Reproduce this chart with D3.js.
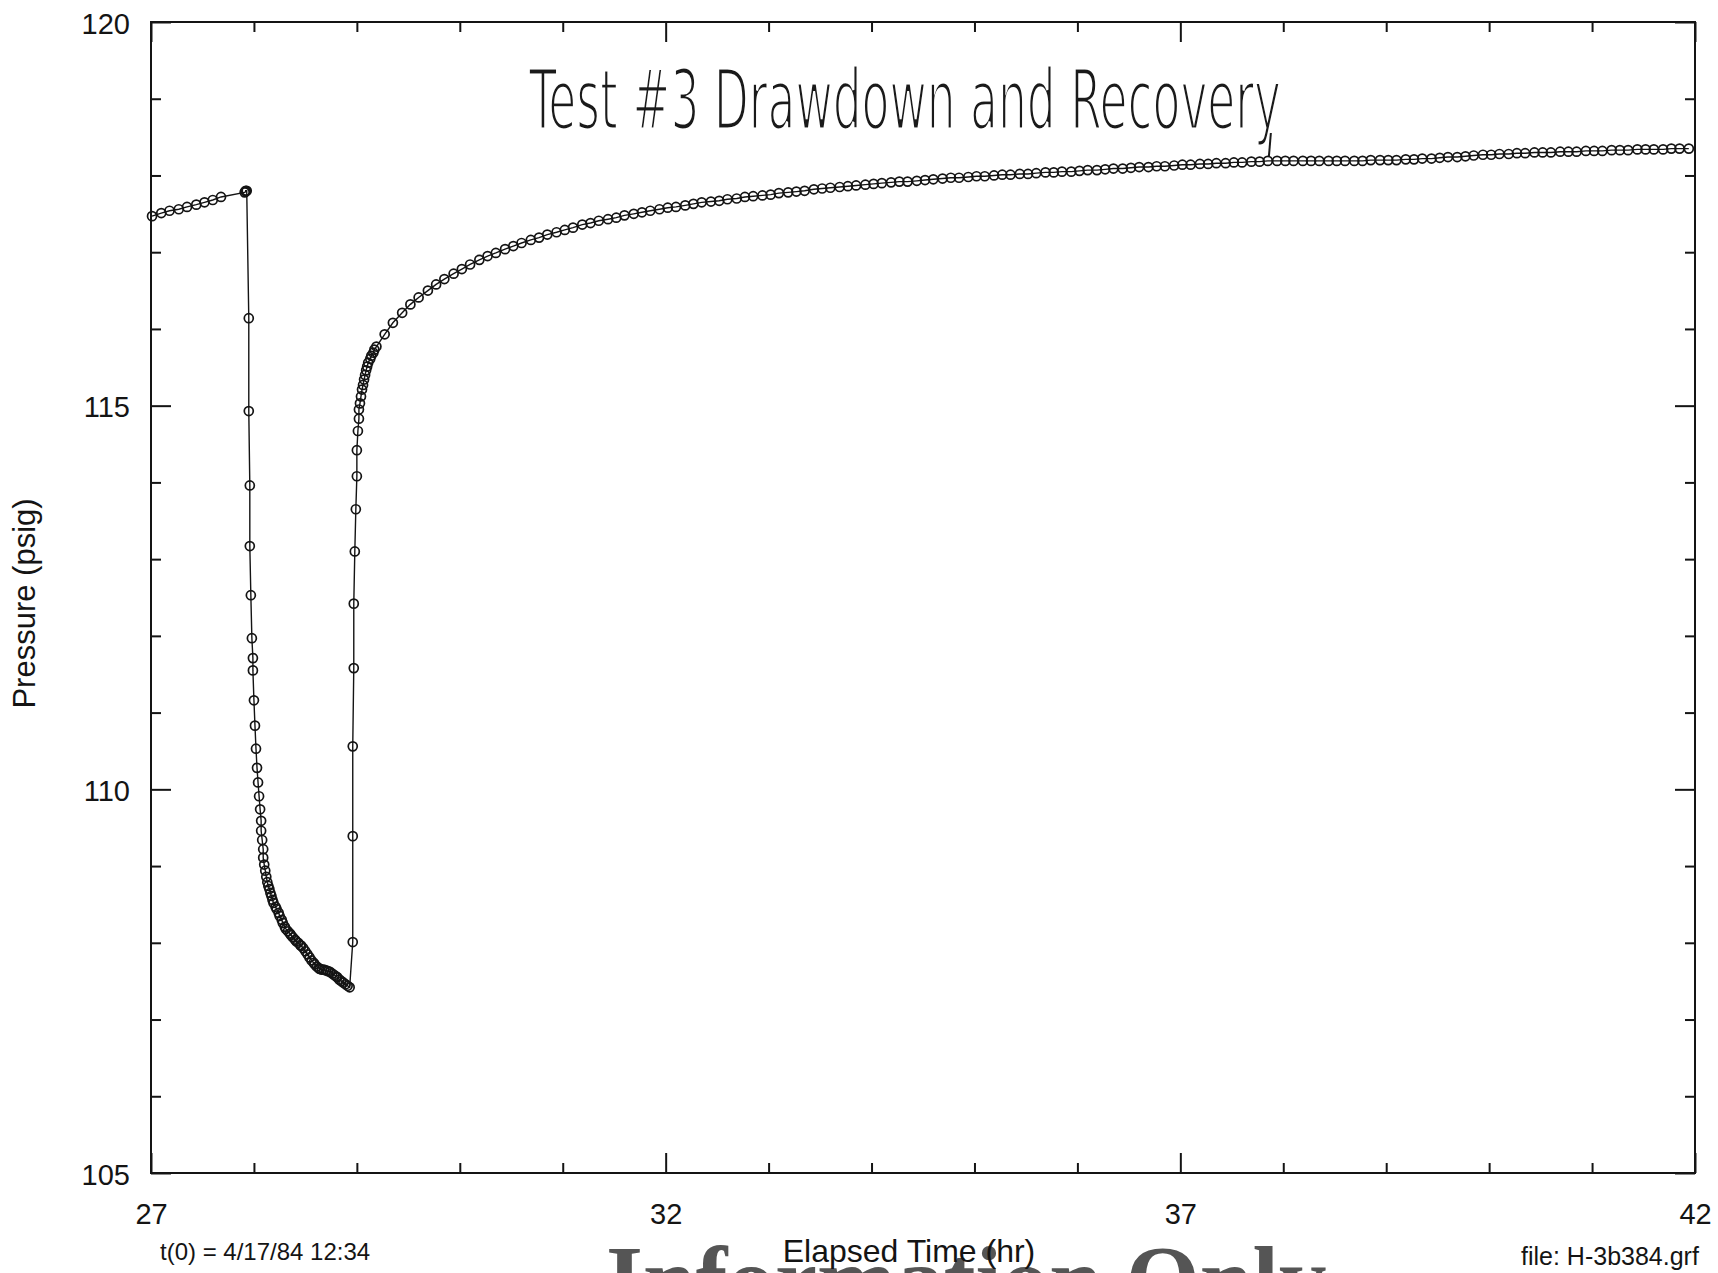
<!DOCTYPE html>
<html>
<head>
<meta charset="utf-8">
<script src="https://cdn.jsdelivr.net/npm/d3@7"></script>
<style>
  html, body { margin: 0; padding: 0; background: #fff; }
  svg { display: block; }
</style>
</head>
<body>
<svg id="chart" width="1718" height="1273"></svg>
<script>
// Well H-3b3, test #3: pressure during drawdown and recovery

// Pre-test static readings (elapsed hours, psig)
const pretestTime = [27.01, 27.10, 27.18, 27.27, 27.35, 27.44, 27.52, 27.60, 27.68, 27.91, 27.92, 27.92, 27.93];
const pretestPressure = [117.47, 117.51, 117.54, 117.56, 117.59, 117.62, 117.65, 117.68, 117.72, 117.78, 117.79, 117.80, 117.80];

// Drawdown readings
const drawdownTime = [
  27.95, 27.95, 27.96, 27.96, 27.97, 27.98, 27.99, 27.99, 28.00, 28.01,
  28.02, 28.03, 28.04, 28.05, 28.06, 28.07, 28.07, 28.08, 28.09, 28.09,
  28.10, 28.11, 28.12, 28.13, 28.14, 28.15, 28.16, 28.17, 28.18, 28.19,
  28.21, 28.22, 28.24, 28.25, 28.27, 28.28, 28.30, 28.31, 28.33, 28.35,
  28.36, 28.38, 28.40, 28.41, 28.43, 28.45, 28.46, 28.48, 28.50, 28.52,
  28.54, 28.56, 28.58, 28.59, 28.61, 28.63, 28.64, 28.66, 28.68, 28.70,
  28.72, 28.74, 28.76, 28.78, 28.80, 28.81, 28.83, 28.85, 28.87, 28.89,
  28.91, 28.93
];
const drawdownPressure = [
  116.14, 114.93, 113.96, 113.17, 112.53, 111.97, 111.71, 111.55, 111.16, 110.83,
  110.53, 110.28, 110.09, 109.91, 109.74, 109.59, 109.46, 109.34, 109.22, 109.11,
  109.02, 108.94, 108.86, 108.79, 108.74, 108.70, 108.65, 108.61, 108.56, 108.52,
  108.47, 108.44, 108.39, 108.35, 108.30, 108.26, 108.21, 108.18, 108.15, 108.12,
  108.10, 108.07, 108.04, 108.02, 108.00, 107.97, 107.96, 107.93, 107.89, 107.85,
  107.81, 107.77, 107.74, 107.72, 107.69, 107.67, 107.66, 107.65, 107.65, 107.64,
  107.63, 107.62, 107.60, 107.58, 107.56, 107.55, 107.52, 107.50, 107.48, 107.46,
  107.44, 107.42
];

// Recovery readings
const recoveryTime = [
  28.96, 28.96, 28.96, 28.97, 28.97, 28.98, 28.99, 29.00, 29.00, 29.01,
  29.02, 29.02, 29.03, 29.04, 29.05, 29.06, 29.07, 29.08, 29.09, 29.10,
  29.11, 29.13, 29.14, 29.16, 29.17, 29.19,
  29.27, 29.35, 29.44, 29.52, 29.60, 29.69, 29.77, 29.85, 29.94, 30.02, 30.10, 30.19,
  30.27, 30.35, 30.44, 30.52, 30.60, 30.69, 30.77, 30.85, 30.94, 31.02, 31.10, 31.19,
  31.27, 31.35, 31.44, 31.52, 31.60, 31.69, 31.77, 31.85, 31.94, 32.02, 32.10, 32.19,
  32.27, 32.35, 32.44, 32.52, 32.60, 32.69, 32.77, 32.85, 32.94, 33.02, 33.10, 33.19,
  33.27, 33.35, 33.44, 33.52, 33.60, 33.69, 33.77, 33.85, 33.94, 34.02, 34.10, 34.19,
  34.27, 34.35, 34.44, 34.52, 34.60, 34.69, 34.77, 34.85, 34.94, 35.02, 35.10, 35.19,
  35.27, 35.35, 35.44, 35.52, 35.60, 35.69, 35.77, 35.85, 35.94, 36.02, 36.10, 36.19,
  36.27, 36.35, 36.44, 36.52, 36.60, 36.69, 36.77, 36.85, 36.94, 37.02, 37.10, 37.19,
  37.27, 37.35, 37.44, 37.52, 37.60, 37.69, 37.77, 37.85, 37.94, 38.02, 38.10, 38.19,
  38.27, 38.35, 38.44, 38.52, 38.60, 38.69, 38.77, 38.85, 38.94, 39.02, 39.10, 39.19,
  39.27, 39.35, 39.44, 39.52, 39.60, 39.69, 39.77, 39.85, 39.94, 40.02, 40.10, 40.19,
  40.27, 40.35, 40.44, 40.52, 40.60, 40.69, 40.77, 40.85, 40.94, 41.02, 41.10, 41.19,
  41.27, 41.35, 41.44, 41.52, 41.60, 41.69, 41.77, 41.85, 41.94
];
const recoveryPressure = [
  108.01, 109.39, 110.56, 111.58, 112.42, 113.10, 113.65, 114.08, 114.42, 114.67,
  114.83, 114.95, 115.03, 115.12, 115.21, 115.27, 115.34, 115.40, 115.46, 115.51,
  115.56, 115.61, 115.65, 115.69, 115.73, 115.77,
  115.93, 116.08, 116.21, 116.32, 116.41, 116.50, 116.58, 116.65, 116.72, 116.78, 116.84, 116.90,
  116.95, 116.99, 117.04, 117.08, 117.12, 117.16, 117.19, 117.23, 117.26, 117.29, 117.32, 117.36,
  117.38, 117.41, 117.43, 117.45, 117.48, 117.50, 117.52, 117.54, 117.56, 117.58, 117.59, 117.61,
  117.63, 117.65, 117.66, 117.67, 117.69, 117.70, 117.72, 117.73, 117.74, 117.75, 117.77, 117.78,
  117.79, 117.80, 117.82, 117.83, 117.84, 117.85, 117.86, 117.87, 117.88, 117.89, 117.90, 117.91,
  117.92, 117.92, 117.93, 117.94, 117.95, 117.96, 117.97, 117.97, 117.98, 117.99, 117.99, 118.00,
  118.01, 118.01, 118.02, 118.02, 118.03, 118.04, 118.04, 118.05, 118.05, 118.06, 118.07, 118.07,
  118.08, 118.09, 118.09, 118.10, 118.11, 118.11, 118.12, 118.12, 118.13, 118.14, 118.14, 118.15,
  118.15, 118.16, 118.16, 118.17, 118.17, 118.18, 118.18, 118.19, 118.19, 118.19, 118.19, 118.19,
  118.19, 118.19, 118.19, 118.19, 118.19, 118.19, 118.19, 118.20, 118.20, 118.20, 118.20, 118.21,
  118.21, 118.22, 118.22, 118.23, 118.24, 118.24, 118.25, 118.26, 118.27, 118.27, 118.28, 118.28,
  118.29, 118.29, 118.30, 118.30, 118.30, 118.31, 118.31, 118.31, 118.32, 118.32, 118.32, 118.33,
  118.33, 118.33, 118.34, 118.34, 118.34, 118.34, 118.35, 118.35, 118.35
];

// Axis ranges and labelled ticks
const xDomain = [27, 42];
const yDomain = [105, 120];
const xTickLabels = [27, 32, 37, 42];
const yTickLabels = [105, 110, 115, 120];

const titleText = "Test #3 Drawdown and Recovery";
const xTitle = "Elapsed Time (hr)";
const yTitle = "Pressure (psig)";
const startNote = "t(0) = 4/17/84 12:34";
const fileNote = "file: H-3b384.grf";
const stampText = "Information Only";

// ---------------------------------------------------------------------------
const svg = d3.select("#chart");
const W = 1718, H = 1273;
const plot = { left: 151, right: 1695, top: 22, bottom: 1173 };

const x = d3.scaleLinear().domain(xDomain).range([plot.left, plot.right]);
const y = d3.scaleLinear().domain(yDomain).range([plot.bottom, plot.top]);

svg.append("rect").attr("width", W).attr("height", H).attr("fill", "#fff");

// Large stamp across the foot of the page
svg.append("text")
  .attr("x", 606).attr("y", 1312)
  .attr("font-family", "'Liberation Serif', 'DejaVu Serif', serif")
  .attr("font-weight", "bold")
  .attr("font-size", 95)
  .attr("fill", "#555")
  .text(stampText);

const ink = "#141414";
const font = "'Liberation Sans', Arial, sans-serif";

// Ticks on all four sides, pointing inward
const minorX = d3.range(xDomain[0], xDomain[1] + 1).filter(v => v % 5 !== 2);
const minorY = d3.range(yDomain[0], yDomain[1] + 1).filter(v => v % 5 !== 0);

function styleAxis(g) {
  g.select(".domain").remove();
  g.selectAll(".tick line").attr("stroke", ink).attr("stroke-width", 2);
  g.selectAll(".tick text")
    .attr("fill", ink)
    .attr("font-family", font)
    .attr("font-size", 29);
}

// bottom
svg.append("g").attr("transform", `translate(0,${plot.bottom})`)
  .call(d3.axisBottom(x).tickValues(minorX).tickSizeInner(-10).tickSizeOuter(0).tickFormat(""))
  .call(styleAxis);
svg.append("g").attr("transform", `translate(0,${plot.bottom})`)
  .call(d3.axisBottom(x).tickValues(xTickLabels).tickSizeInner(-20).tickSizeOuter(0)
    .tickPadding(30).tickFormat(d3.format("d")))
  .call(styleAxis);
// top
svg.append("g").attr("transform", `translate(0,${plot.top})`)
  .call(d3.axisTop(x).tickValues(minorX).tickSizeInner(-10).tickSizeOuter(0).tickFormat(""))
  .call(styleAxis);
svg.append("g").attr("transform", `translate(0,${plot.top})`)
  .call(d3.axisTop(x).tickValues(xTickLabels).tickSizeInner(-20).tickSizeOuter(0).tickFormat(""))
  .call(styleAxis);
// left
svg.append("g").attr("transform", `translate(${plot.left},0)`)
  .call(d3.axisLeft(y).tickValues(minorY).tickSizeInner(-10).tickSizeOuter(0).tickFormat(""))
  .call(styleAxis);
svg.append("g").attr("transform", `translate(${plot.left},0)`)
  .call(d3.axisLeft(y).tickValues(yTickLabels).tickSizeInner(-20).tickSizeOuter(0)
    .tickPadding(21).tickFormat(d3.format("d")))
  .call(styleAxis)
  .call(g => g.selectAll(".tick text").attr("dy", "0.38em"));
// right
svg.append("g").attr("transform", `translate(${plot.right},0)`)
  .call(d3.axisRight(y).tickValues(minorY).tickSizeInner(-10).tickSizeOuter(0).tickFormat(""))
  .call(styleAxis);
svg.append("g").attr("transform", `translate(${plot.right},0)`)
  .call(d3.axisRight(y).tickValues(yTickLabels).tickSizeInner(-20).tickSizeOuter(0).tickFormat(""))
  .call(styleAxis);

// Plot frame
svg.append("rect")
  .attr("x", plot.left).attr("y", plot.top)
  .attr("width", plot.right - plot.left).attr("height", plot.bottom - plot.top)
  .attr("fill", "none").attr("stroke", ink).attr("stroke-width", 2);

// Series: one continuous record
const series = [];
pretestTime.forEach((t, i) => series.push({ t, p: pretestPressure[i] }));
drawdownTime.forEach((t, i) => series.push({ t, p: drawdownPressure[i] }));
recoveryTime.forEach((t, i) => series.push({ t, p: recoveryPressure[i] }));

const line = d3.line().x(d => x(d.t)).y(d => y(d.p));
svg.append("path")
  .datum(series)
  .attr("d", line)
  .attr("fill", "none")
  .attr("stroke", ink)
  .attr("stroke-width", 1.4);

svg.append("g")
  .selectAll("circle")
  .data(series)
  .join("circle")
  .attr("cx", d => x(d.t))
  .attr("cy", d => y(d.p))
  .attr("r", 4.5)
  .attr("fill", "none")
  .attr("stroke", ink)
  .attr("stroke-width", 1.7);

// Axis titles and notes
svg.append("text")
  .attr("x", (plot.left + plot.right) / 2 - 14).attr("y", 1262)
  .attr("text-anchor", "middle")
  .attr("font-family", font).attr("font-size", 32).attr("fill", ink)
  .text(xTitle);

svg.append("text")
  .attr("transform", `translate(35,${(plot.top + plot.bottom) / 2 + 6}) rotate(-90)`)
  .attr("text-anchor", "middle")
  .attr("font-family", font).attr("font-size", 31).attr("fill", ink)
  .text(yTitle);

svg.append("text")
  .attr("x", 160).attr("y", 1260)
  .attr("font-family", font).attr("font-size", 24).attr("fill", ink)
  .text(startNote);

svg.append("text")
  .attr("x", 1521).attr("y", 1265)
  .attr("font-family", font).attr("font-size", 25).attr("fill", ink)
  .text(fileNote);

// Pen-written heading with a stroke down to the curve
const title = svg.append("g").attr("transform", "translate(529,129) scale(1,1.6)");
title.append("text")
  .attr("x", 0).attr("y", 0)
  .attr("font-family", "'DejaVu Sans Condensed', 'DejaVu Sans', sans-serif")
  .attr("font-size", 52)
  .attr("textLength", 752)
  .attr("lengthAdjust", "spacingAndGlyphs")
  .attr("fill", "#1a1a1a")
  .attr("stroke", "#fff")
  .attr("stroke-width", 2.6)
  .attr("vector-effect", "non-scaling-stroke")
  .text(titleText);

const leaderT = 37.86;
svg.append("path")
  .attr("d", `M${x(leaderT) + 2},${133} L${x(leaderT)},${y(118.19) - 4}`)
  .attr("fill", "none")
  .attr("stroke", "#1a1a1a")
  .attr("stroke-width", 2);
</script>
</body>
</html>
